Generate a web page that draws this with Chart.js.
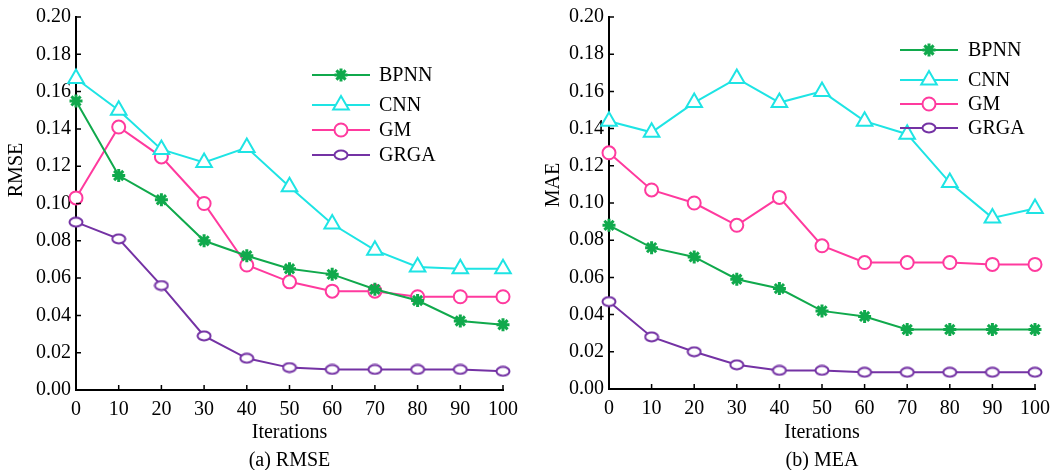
<!DOCTYPE html>
<html>
<head>
<meta charset="utf-8">
<script src="https://cdn.jsdelivr.net/npm/chart.js@4"></script>
<style>
  html, body { margin: 0; padding: 0; background: #fff; }
  #wrap { position: relative; width: 1058px; height: 470px; }
  .box { position: absolute; top: 0; width: 529px; height: 470px; }
</style>
</head>
<body>
<div id="wrap">
  <div class="box" style="left:0"><canvas id="rmseChart" width="529" height="470"></canvas></div>
  <div class="box" style="left:529px"><canvas id="maeChart" width="529" height="470"></canvas></div>
</div>
<script>
// Data
const iterations = [0, 10, 20, 30, 40, 50, 60, 70, 80, 90, 100];
const seriesNames = ['BPNN', 'CNN', 'GM', 'GRGA'];

const rmseBPNN = [0.155, 0.115, 0.102, 0.080, 0.072, 0.065, 0.062, 0.054, 0.048, 0.037, 0.035];
const rmseCNN  = [0.167, 0.150, 0.129, 0.122, 0.130, 0.109, 0.089, 0.075, 0.066, 0.065, 0.065];
const rmseGM   = [0.103, 0.141, 0.125, 0.100, 0.067, 0.058, 0.053, 0.053, 0.050, 0.050, 0.050];
const rmseGRGA = [0.090, 0.081, 0.056, 0.029, 0.017, 0.012, 0.011, 0.011, 0.011, 0.011, 0.010];

const maeBPNN = [0.088, 0.076, 0.071, 0.059, 0.054, 0.042, 0.039, 0.032, 0.032, 0.032, 0.032];
const maeCNN  = [0.144, 0.138, 0.154, 0.167, 0.154, 0.160, 0.144, 0.137, 0.111, 0.092, 0.097];
const maeGM   = [0.127, 0.107, 0.100, 0.088, 0.103, 0.077, 0.068, 0.068, 0.068, 0.067, 0.067];
const maeGRGA = [0.047, 0.028, 0.020, 0.013, 0.010, 0.010, 0.009, 0.009, 0.009, 0.009, 0.009];

const FONT = '"Liberation Serif", "Times New Roman", serif';
const colors = ['#10a94c', '#1ee4e4', '#ff3a9e', '#7432a4'];

// small ellipse marker for GRGA
function ellipseMarker(color) {
  const c = document.createElement('canvas');
  c.width = 16; c.height = 12;
  const g = c.getContext('2d');
  g.strokeStyle = color;
  g.fillStyle = '#fff';
  g.lineWidth = 2;
  g.beginPath();
  g.ellipse(8, 6, 6.5, 4.5, 0, 0, Math.PI * 2);
  g.fill();
  g.stroke();
  return c;
}

const markerStyles = [
  { pointStyle: 'star', radius: 6.5, borderWidth: 3, bg: '#10a94c' },
  { pointStyle: 'triangle', radius: 9, borderWidth: 2, bg: '#fff' },
  { pointStyle: 'circle', radius: 6.5, borderWidth: 2, bg: '#fff' },
  { pointStyle: ellipseMarker('#7432a4'), radius: 6, borderWidth: 2, bg: '#fff' }
];

function makeDatasets(values) {
  return values.map((vals, i) => ({
    label: seriesNames[i],
    data: iterations.map((x, k) => ({ x: x, y: vals[k] })),
    borderColor: colors[i],
    backgroundColor: markerStyles[i].bg,
    borderWidth: 2,
    pointStyle: markerStyles[i].pointStyle,
    pointRadius: markerStyles[i].radius,
    pointBorderWidth: markerStyles[i].borderWidth,
    pointBorderColor: colors[i],
    pointBackgroundColor: markerStyles[i].bg,
    tension: 0,
    clip: false
  }));
}

// legend drawn inside the plot, line + marker
const innerLegend = {
  id: 'innerLegend',
  afterDraw(chart, args, opts) {
    const ctx = chart.ctx;
    ctx.save();
    chart.data.datasets.forEach((ds, i) => {
      const y = opts.rows[i];
      ctx.strokeStyle = ds.borderColor;
      ctx.lineWidth = 2;
      ctx.beginPath();
      ctx.moveTo(opts.x0, y);
      ctx.lineTo(opts.x1, y);
      ctx.stroke();
      ctx.fillStyle = ds.pointBackgroundColor;
      ctx.strokeStyle = ds.borderColor;
      ctx.lineWidth = ds.pointBorderWidth;
      Chart.helpers.drawPoint(ctx, {
        pointStyle: ds.pointStyle,
        radius: ds.pointRadius,
        borderWidth: ds.pointBorderWidth,
        rotation: 0
      }, (opts.x0 + opts.x1) / 2, y);
      ctx.fillStyle = '#000';
      ctx.font = '20px ' + FONT;
      ctx.textBaseline = 'middle';
      ctx.textAlign = 'left';
      ctx.fillText(ds.label, opts.textX, y + 1);
    });
    ctx.restore();
  }
};

// inward tick marks + rotated y title at its own spot
const axisExtras = {
  id: 'axisExtras',
  afterDraw(chart, args, opts) {
    const ctx = chart.ctx;
    const xs = chart.scales.x, ys = chart.scales.y;
    const a = chart.chartArea;
    ctx.save();
    ctx.strokeStyle = '#000';
    ctx.lineWidth = 1.5;
    ctx.beginPath();
    ys.ticks.forEach(t => {
      const p = ys.getPixelForValue(t.value);
      ctx.moveTo(a.left, p);
      ctx.lineTo(a.left + 5, p);
    });
    xs.ticks.forEach(t => {
      const p = xs.getPixelForValue(t.value);
      ctx.moveTo(p, a.bottom);
      ctx.lineTo(p, a.bottom - 5);
    });
    ctx.stroke();

    ctx.translate(opts.titleX, opts.titleY);
    ctx.rotate(-Math.PI / 2);
    ctx.fillStyle = '#000';
    ctx.font = '20px ' + FONT;
    ctx.textAlign = 'center';
    ctx.textBaseline = 'middle';
    ctx.fillText(opts.title, 0, 0);
    ctx.restore();
  }
};

function makeChart(id, values, yTitle, caption, geo) {
  const ctx = document.getElementById(id).getContext('2d');
  return new Chart(ctx, {
    type: 'line',
    data: { datasets: makeDatasets(values) },
    plugins: [innerLegend, axisExtras],
    options: {
      responsive: false,
      animation: false,
      devicePixelRatio: 1,
      layout: { padding: { left: 0, right: geo.padRight, top: geo.top, bottom: 0 } },
      scales: {
        x: {
          type: 'linear',
          min: 0,
          max: 100,
          afterFit: s => { s.height = 470 - geo.bottom; },
          grid: { display: true, drawOnChartArea: false, drawTicks: false },
          border: { display: true, color: '#000', width: 2 },
          ticks: {
            stepSize: 10,
            padding: 8,
            color: '#000',
            font: { family: FONT, size: 20 }
          },
          title: {
            display: true,
            text: ['Iterations', caption],
            color: '#000',
            font: { family: FONT, size: 20, lineHeight: 1.4 },
            padding: { top: 0, bottom: -5 }
          }
        },
        y: {
          min: 0,
          max: 0.2,
          afterFit: s => { s.width = geo.left; },
          grid: { display: true, drawOnChartArea: false, drawTicks: false },
          border: { display: true, color: '#000', width: 2 },
          ticks: {
            stepSize: 0.02,
            padding: 5,
            color: '#000',
            font: { family: FONT, size: 20 },
            callback: v => v.toFixed(2)
          }
        }
      },
      plugins: {
        legend: { display: false },
        tooltip: { enabled: false },
        innerLegend: geo.legend,
        axisExtras: { title: yTitle, titleX: geo.titleX, titleY: geo.titleY }
      }
    }
  });
}

makeChart('rmseChart', [rmseBPNN, rmseCNN, rmseGM, rmseGRGA], 'RMSE', '(a) RMSE', {
  left: 76, padRight: 26, top: 14, bottom: 390, titleX: 17, titleY: 170,
  legend: { x0: 312, x1: 370, textX: 379, rows: [75, 105, 130, 155] }
});

makeChart('maeChart', [maeBPNN, maeCNN, maeGM, maeGRGA], 'MAE', '(b) MEA', {
  left: 80, padRight: 20, top: 15, bottom: 389, titleX: 25, titleY: 185,
  legend: { x0: 371, x1: 429, textX: 439, rows: [50, 80, 104, 128] }
});
</script>
</body>
</html>
